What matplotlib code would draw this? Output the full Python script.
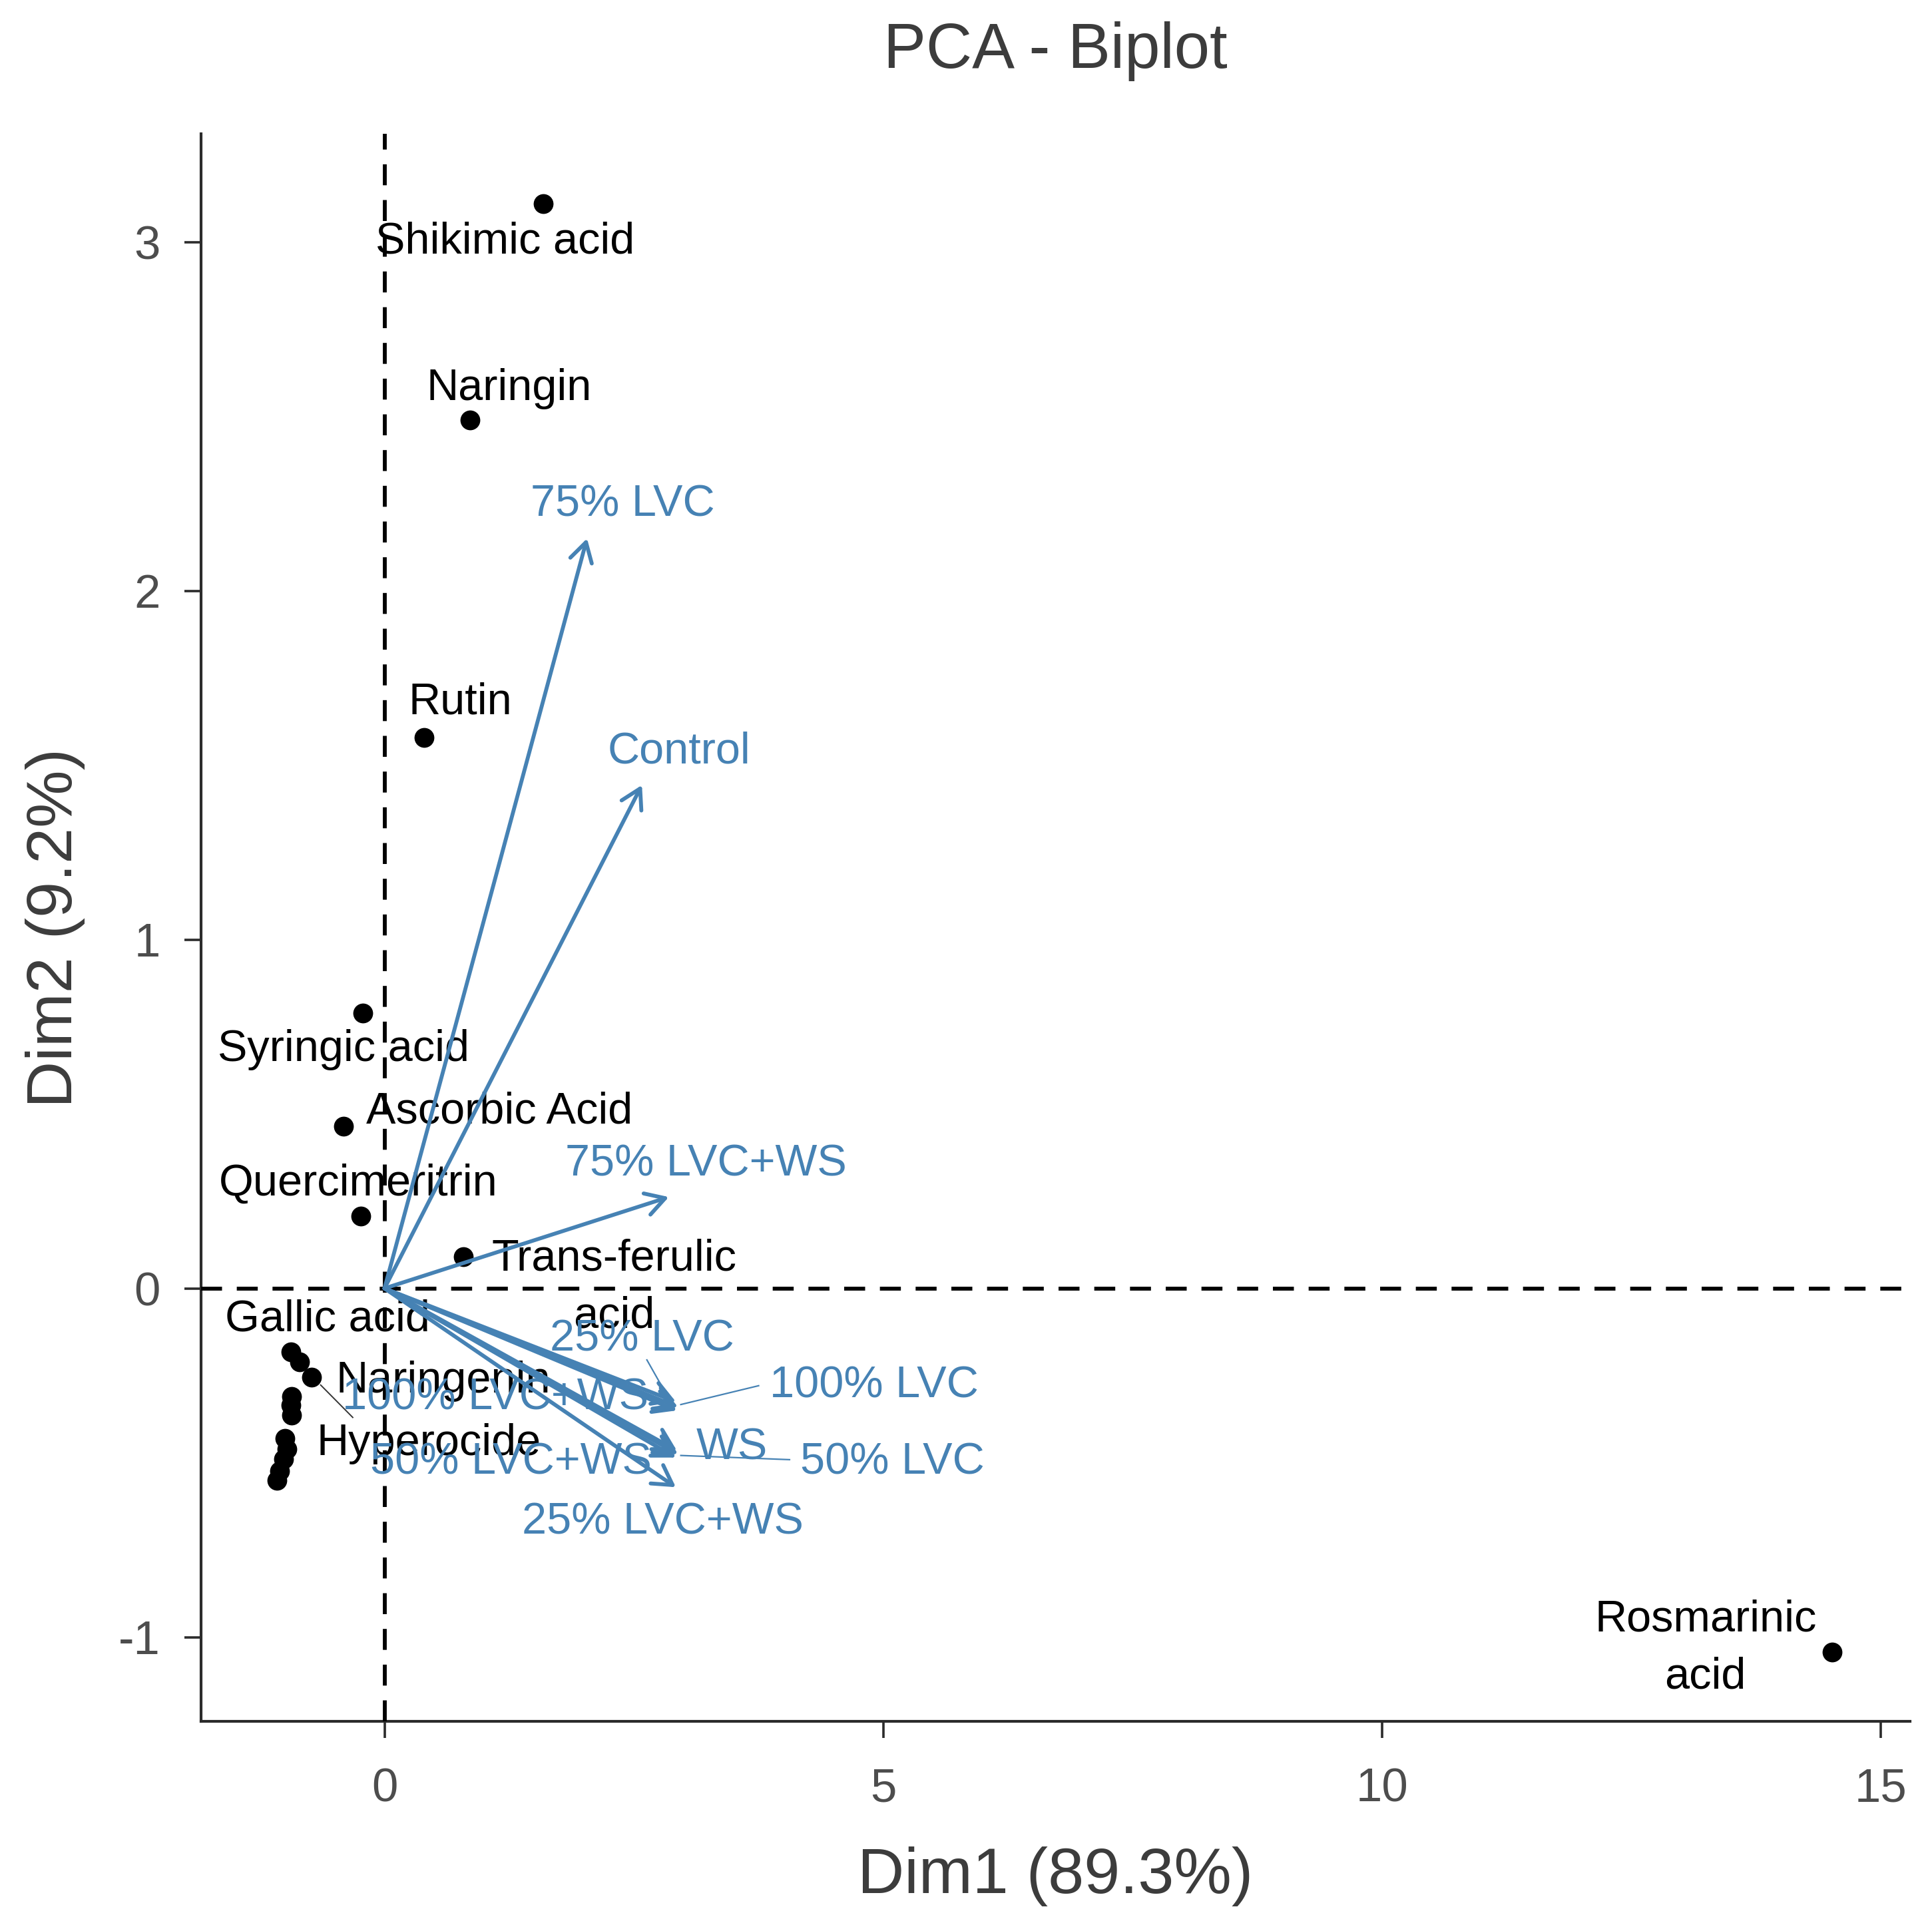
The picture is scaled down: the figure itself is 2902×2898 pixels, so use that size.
import numpy as np
import matplotlib.pyplot as plt

plt.rcParams['font.family'] = ['Liberation Sans', 'DejaVu Sans']
plt.rcParams['axes.unicode_minus'] = False

# individuals (compounds), scores on Dim1 / Dim2
ind_names = ["Shikimic acid", "Naringin", "Rutin", "Syringic acid", "Ascorbic Acid",
             "Quercimeritrin", "Trans-ferulic\nacid", "Gallic acid", "Naringenin", "Hyperocide",
             "", "", "", "", "", "", "", "", "Rosmarinic\nacid"]
ind_x = [1.59, 0.86, 0.40, -0.22, -0.41, -0.235, 0.79, -0.94, -0.85, -0.73,
         -0.93, -0.94, -0.93, -1.00, -0.975, -1.01, -1.05, -1.08, 14.51]
ind_y = [3.11, 2.49, 1.58, 0.79, 0.465, 0.207, 0.09, -0.182, -0.21, -0.255,
         -0.31, -0.334, -0.363, -0.43, -0.46, -0.49, -0.524, -0.55, -1.043]
# repelled label positions (nan = label dropped)
ind_lab_x = [1.21, 1.25, 0.76, -0.41, 1.15, -0.26, 2.30, -0.57, 0.59, 0.445,
             np.nan, np.nan, np.nan, np.nan, np.nan, np.nan, np.nan, np.nan, 13.24]
ind_lab_y = [3.0, 2.58, 1.68, 0.684, 0.505, 0.30, 0.003, -0.089, -0.266, -0.446,
             np.nan, np.nan, np.nan, np.nan, np.nan, np.nan, np.nan, np.nan, -1.033]

# variables (treatments), loadings
var_names = ["75% LVC", "Control", "75% LVC+WS", "25% LVC", "100% LVC", "100% LVC+WS",
             "WS", "50% LVC", "50% LVC+WS", "25% LVC+WS"]
var_x = [2.03, 2.58, 2.85, 2.92, 2.94, 2.93, 2.93, 2.94, 2.92, 2.92]
var_y = [2.15, 1.443, 0.262, -0.325, -0.34, -0.35, -0.465, -0.475, -0.485, -0.57]
var_lab_x = [2.39, 2.95, 3.22, 2.58, 4.91, 1.11, 3.48, 5.09, 1.27, 2.79]
var_lab_y = [2.247, 1.538, 0.356, -0.146, -0.28, -0.315, -0.457, -0.499, -0.499, -0.672]

# repel segments: (x0, y0, x1, y1)
var_segs = [(2.80, -0.291, 2.63, -0.205),
            (2.97, -0.333, 3.75, -0.279),
            (2.97, -0.479, 4.06, -0.491)]
ind_segs = [(-0.64, -0.277, -0.318, -0.37)]

blue = '#4682B4'
gray_txt = '#3C3C3C'

fig = plt.figure(figsize=(29.02, 28.98), dpi=100)
ax = fig.add_axes([0.1041, 0.1077, 0.8845, 0.8229])

ax.scatter(ind_x, ind_y, s=460, color='black', zorder=3, linewidths=0)
for name, lx, ly in zip(ind_names, ind_lab_x, ind_lab_y):
    if name and not np.isnan(lx):
        ax.text(lx, ly, name, fontsize=48, color='black', ha='center', va='center',
                multialignment='center', linespacing=1.5, zorder=4)
for x0, y0, x1, y1 in ind_segs:
    ax.plot([x0, x1], [y0, y1], color='#333333', lw=1.4, zorder=4)

ax.axhline(0, color='black', lw=4.2, ls=(0, (5.4, 3.8)), zorder=5)
ax.axvline(0, color='black', lw=4.2, ls=(0, (5.4, 3.8)), zorder=5)

for vx, vy in zip(var_x, var_y):
    ax.annotate("", xy=(vx, vy), xytext=(0, 0),
                arrowprops=dict(arrowstyle="->,head_length=1.03,head_width=0.6",
                                color=blue, lw=4.2, shrinkA=0, shrinkB=0,
                                mutation_scale=20), zorder=6)
for x0, y0, x1, y1 in var_segs:
    ax.plot([x0, x1], [y0, y1], color=blue, lw=1.6, zorder=6)
for name, lx, ly in zip(var_names, var_lab_x, var_lab_y):
    ax.text(lx, ly, name, fontsize=48, color=blue, ha='center', va='center', zorder=7)

ax.set_xlim(-1.838, 15.29)
ax.set_ylim(-1.241, 3.31)
ax.set_xticks([0, 5, 10, 15])
ax.set_yticks([-1, 0, 1, 2, 3])

for s in ['top', 'right']:
    ax.spines[s].set_visible(False)
for s in ['left', 'bottom']:
    ax.spines[s].set_linewidth(3.0)
    ax.spines[s].set_color('#2b2b2b')
ax.tick_params(axis='both', length=18, width=2.6, color='#2b2b2b',
               labelsize=51, labelcolor='#4D4D4D')
ax.tick_params(axis='x', pad=32)
ax.tick_params(axis='y', pad=26)

ax.set_xlabel('Dim1 (89.3%)', fontsize=70, color=gray_txt)
ax.set_ylabel('Dim2 (9.2%)', fontsize=70, color=gray_txt)
ax.xaxis.label.set_va('center')
ax.yaxis.label.set_va('center')
ax.xaxis.set_label_coords(0.5, -0.0977)
ax.yaxis.set_label_coords(-0.0853, 0.5)

fig.text(1585 / 2902, 1 - 102 / 2898, 'PCA - Biplot', fontsize=69, color=gray_txt,
         ha='center', va='baseline')

fig.savefig('out.png', dpi=100, facecolor='white')
